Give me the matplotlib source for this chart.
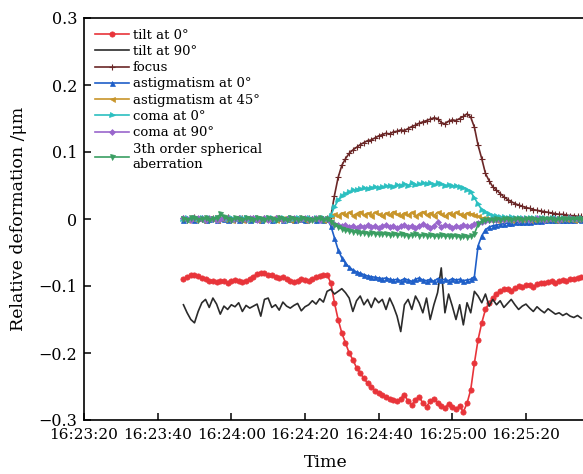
import numpy as np
import matplotlib
matplotlib.use("Agg")
import matplotlib.pyplot as plt

# time in seconds after 16:23:20, sampled every second
t_start, t_end = 27, 135
tick_seconds = [0, 20, 40, 60, 80, 100, 120]
tick_labels = ["16:23:20", "16:23:40", "16:24:00", "16:24:20", "16:24:40", "16:25:00", "16:25:20"]
ytick_vals = [-0.3, -0.2, -0.1, 0, 0.1, 0.2, 0.3]
ytick_labels = ["\u22120.3", "\u22120.2", "\u22120.1", "0", "0.1", "0.2", "0.3"]

tilt0 = [
    -0.090, -0.086, -0.084, -0.083, -0.085, -0.088, -0.090, -0.092, -0.093, -0.094,
    -0.092, -0.093, -0.095, -0.093, -0.091, -0.093, -0.094, -0.092, -0.089, -0.086,
    -0.082, -0.080, -0.081, -0.083, -0.084, -0.086, -0.088, -0.087, -0.090, -0.093,
    -0.094, -0.092, -0.089, -0.091, -0.093, -0.090, -0.087, -0.085, -0.084, -0.083,
    -0.095, -0.125, -0.150, -0.170, -0.185, -0.200, -0.210, -0.222, -0.230, -0.238,
    -0.245, -0.250, -0.256, -0.260, -0.262, -0.266, -0.268, -0.270, -0.272, -0.268,
    -0.262, -0.272, -0.278, -0.270, -0.265, -0.275, -0.280, -0.272, -0.268, -0.274,
    -0.279, -0.282, -0.276, -0.280, -0.284, -0.279, -0.288, -0.275, -0.255, -0.215,
    -0.180, -0.155, -0.135, -0.125, -0.118, -0.112, -0.108, -0.105, -0.104, -0.107,
    -0.103, -0.100, -0.102, -0.099, -0.098, -0.101, -0.097, -0.095, -0.096, -0.094,
    -0.093, -0.095, -0.092, -0.091, -0.093, -0.090, -0.089, -0.088, -0.087,
]
tilt90 = [
    -0.128, -0.140, -0.150, -0.155, -0.138, -0.125, -0.120, -0.132, -0.118, -0.127,
    -0.142, -0.130, -0.135, -0.128, -0.131, -0.125, -0.138, -0.129, -0.133, -0.130,
    -0.127, -0.145, -0.120, -0.118, -0.132, -0.128, -0.136, -0.124, -0.130, -0.133,
    -0.129, -0.126, -0.137, -0.131, -0.128, -0.122, -0.127, -0.119, -0.124, -0.108,
    -0.105, -0.112, -0.108, -0.104, -0.110, -0.118, -0.138, -0.122, -0.115, -0.128,
    -0.120, -0.132, -0.118, -0.125, -0.120, -0.135, -0.118, -0.130, -0.145, -0.168,
    -0.128, -0.120, -0.135, -0.115, -0.125, -0.140, -0.118, -0.150, -0.128, -0.110,
    -0.073, -0.140, -0.112, -0.130, -0.150, -0.128, -0.158, -0.125, -0.140, -0.108,
    -0.115, -0.125, -0.112, -0.130, -0.120, -0.128, -0.122, -0.132, -0.126, -0.120,
    -0.128, -0.135, -0.130, -0.127, -0.133, -0.138, -0.131, -0.136, -0.140, -0.134,
    -0.138, -0.142, -0.140, -0.144, -0.141, -0.145, -0.147, -0.144, -0.148,
]
focus = [
    0.002, -0.001, 0.001, 0.003, -0.002, 0.000, 0.002, -0.001, 0.001, 0.002,
    -0.002, 0.001, 0.003, 0.000, -0.001, 0.002, 0.001, -0.002, 0.000, 0.002,
    0.001, -0.001, 0.002, 0.000, -0.002, 0.001, 0.002, -0.001, 0.000, 0.001,
    -0.002, 0.000, 0.002, -0.001, 0.001, 0.000, -0.002, 0.001, 0.000, 0.001,
    0.003, 0.035, 0.062, 0.080, 0.090, 0.098, 0.103, 0.107, 0.111, 0.114,
    0.117, 0.118, 0.121, 0.124, 0.126, 0.128, 0.127, 0.130, 0.131, 0.133,
    0.132, 0.135, 0.138, 0.140, 0.143, 0.145, 0.147, 0.149, 0.151, 0.150,
    0.144, 0.142, 0.146, 0.148, 0.147, 0.150, 0.153, 0.157, 0.152, 0.137,
    0.110, 0.090, 0.068, 0.057, 0.048, 0.043, 0.038, 0.033, 0.029, 0.026,
    0.023, 0.021, 0.019, 0.017, 0.016, 0.014, 0.013, 0.012, 0.011, 0.010,
    0.009, 0.008, 0.007, 0.007, 0.006, 0.005, 0.005, 0.004, 0.004,
]
astig0 = [
    -0.001, 0.002, 0.000, -0.002, 0.001, 0.003, -0.001, 0.000, 0.002, -0.002,
    0.001, 0.000, -0.002, 0.002, 0.001, -0.001, 0.000, 0.003, -0.001, 0.001,
    0.000, -0.002, 0.001, 0.002, -0.001, 0.000, 0.001, -0.002, 0.002, 0.000,
    -0.001, 0.001, 0.000, -0.002, 0.001, 0.002, -0.001, 0.000, -0.002, 0.000,
    -0.010, -0.028, -0.046, -0.058, -0.066, -0.072, -0.076, -0.079, -0.081, -0.083,
    -0.085, -0.086, -0.087, -0.088, -0.089, -0.088, -0.090, -0.091, -0.090, -0.092,
    -0.089, -0.091, -0.093, -0.090, -0.088, -0.091, -0.092, -0.090, -0.093, -0.089,
    -0.091, -0.090, -0.092, -0.089, -0.091, -0.090, -0.092, -0.091, -0.090, -0.086,
    -0.040, -0.025, -0.016, -0.012, -0.010, -0.009, -0.008, -0.007, -0.006, -0.006,
    -0.005, -0.005, -0.004, -0.004, -0.004, -0.003, -0.003, -0.003, -0.002, -0.002,
    -0.002, -0.002, -0.001, -0.002, -0.001, -0.001, -0.001, 0.000, -0.001,
]
astig45 = [
    0.001, -0.001, 0.002, 0.000, 0.001, -0.002, 0.001, 0.002, 0.000, -0.001,
    0.002, 0.000, 0.001, -0.001, 0.002, 0.001, -0.001, 0.000, 0.002, 0.001,
    -0.001, 0.001, 0.000, 0.002, 0.001, -0.001, 0.000, 0.002, 0.001, -0.001,
    0.001, 0.000, 0.002, -0.001, 0.000, 0.001, 0.002, 0.000, -0.001, 0.001,
    0.004, 0.007, 0.005, 0.009, 0.006, 0.010, 0.005, 0.008, 0.011, 0.006,
    0.009, 0.005, 0.010, 0.007, 0.004, 0.009, 0.006, 0.011, 0.007, 0.005,
    0.009, 0.006, 0.010, 0.004, 0.008, 0.011, 0.006, 0.009, 0.005, 0.010,
    0.007, 0.004, 0.009, 0.006, 0.010, 0.007, 0.005, 0.009, 0.008, 0.006,
    0.004, 0.002, 0.001, 0.000, 0.001, -0.001, 0.000, 0.001, 0.000, -0.001,
    0.001, 0.000, 0.000, 0.001, -0.001, 0.000, 0.001, 0.000, 0.000, 0.001,
    0.000, -0.001, 0.000, 0.001, 0.000, 0.000, -0.001, 0.000, 0.001,
]
coma0 = [
    0.000, 0.002, -0.001, 0.001, 0.000, 0.002, -0.002, 0.001, 0.000, 0.001,
    -0.001, 0.002, 0.000, 0.001, -0.002, 0.000, 0.002, 0.001, -0.001, 0.000,
    0.002, 0.000, -0.001, 0.001, 0.002, -0.001, 0.000, 0.001, -0.002, 0.001,
    0.000, 0.002, -0.001, 0.000, 0.001, -0.001, 0.002, 0.000, 0.001, 0.000,
    0.005, 0.018, 0.028, 0.034, 0.038, 0.040, 0.043, 0.044, 0.045, 0.046,
    0.045, 0.047, 0.048, 0.046, 0.048, 0.049, 0.050, 0.048, 0.051, 0.050,
    0.052, 0.050, 0.053, 0.051, 0.052, 0.054, 0.052, 0.053, 0.051, 0.053,
    0.052, 0.050, 0.051, 0.049, 0.050, 0.048, 0.047, 0.044, 0.040, 0.032,
    0.022, 0.014, 0.010, 0.007, 0.005, 0.004, 0.003, 0.003, 0.002, 0.003,
    0.002, 0.002, 0.001, 0.002, 0.001, 0.001, 0.002, 0.001, 0.001, 0.000,
    0.001, 0.001, 0.000, 0.001, 0.000, 0.001, 0.000, 0.000, 0.001,
]
coma90 = [
    0.001, 0.000, -0.002, 0.001, 0.002, 0.000, -0.001, 0.001, 0.000, -0.002,
    0.000, 0.001, 0.002, -0.001, 0.000, 0.001, -0.002, 0.000, 0.001, 0.002,
    -0.001, 0.000, 0.001, -0.002, 0.000, 0.002, 0.001, -0.001, 0.000, 0.001,
    0.002, -0.001, 0.000, 0.001, -0.002, 0.000, 0.001, -0.001, 0.000, 0.000,
    -0.004, -0.007, -0.009, -0.011, -0.009, -0.012, -0.010, -0.013, -0.010, -0.012,
    -0.009, -0.012, -0.010, -0.013, -0.011, -0.009, -0.012, -0.010, -0.013, -0.011,
    -0.009, -0.012, -0.010, -0.013, -0.010, -0.008, -0.011, -0.013, -0.010, -0.005,
    -0.012, -0.009, -0.011, -0.013, -0.010, -0.012, -0.009, -0.011, -0.010, -0.008,
    -0.006, -0.004, -0.003, -0.002, -0.002, -0.001, -0.002, -0.001, 0.000, -0.001,
    0.000, -0.001, 0.000, 0.000, -0.001, 0.000, 0.001, 0.000, -0.001, 0.000,
    0.000, 0.000, -0.001, 0.000, 0.000, 0.001, 0.000, 0.000, 0.000,
]
spherical = [
    0.000, -0.001, 0.001, 0.002, -0.001, 0.000, 0.001, -0.002, 0.000, 0.002,
    0.007, 0.003, 0.000, -0.001, 0.001, 0.000, -0.002, 0.001, 0.000, -0.001,
    0.001, 0.000, -0.001, 0.002, 0.000, -0.001, 0.001, 0.000, -0.002, 0.001,
    0.000, -0.001, 0.001, 0.000, -0.002, -0.001, 0.000, 0.001, -0.001, 0.000,
    -0.004, -0.009, -0.012, -0.015, -0.017, -0.018, -0.019, -0.020, -0.021, -0.021,
    -0.022, -0.021, -0.022, -0.023, -0.022, -0.023, -0.024, -0.023, -0.024, -0.023,
    -0.024, -0.025, -0.024, -0.023, -0.025, -0.024, -0.025, -0.024, -0.026, -0.025,
    -0.024, -0.026, -0.025, -0.026, -0.025, -0.027, -0.026, -0.027, -0.026, -0.022,
    -0.008, -0.003, -0.002, -0.001, -0.001, 0.000, -0.001, 0.000, 0.000, -0.001,
    0.000, 0.000, -0.001, 0.000, 0.000, 0.000, -0.001, 0.000, 0.000, 0.000,
    0.000, -0.001, 0.000, 0.000, 0.000, 0.000, 0.000, 0.000, 0.000,
]

t = np.arange(t_start, t_end + 1)

series = [
    ("tilt at 0\u00b0", tilt0, "#e8343a", "o", 3.8),
    ("tilt at 90\u00b0", tilt90, "#2b2b2b", None, 0),
    ("focus", focus, "#6b2727", "+", 4.0),
    ("astigmatism at 0\u00b0", astig0, "#1f5fc8", "^", 3.6),
    ("astigmatism at 45\u00b0", astig45, "#c8952a", "<", 3.6),
    ("coma at 0\u00b0", coma0, "#2bbfc0", ">", 3.6),
    ("coma at 90\u00b0", coma90, "#9966cc", "D", 3.0),
    ("3th order spherical\naberration", spherical, "#3a9e62", "v", 3.6),
]

plt.rcParams["font.family"] = ["DejaVu Serif"]
plt.rcParams["mathtext.fontset"] = "dejavuserif"

fig = plt.figure(figsize=(5.83, 4.74), dpi=100)
ax = fig.add_axes([84 / 583, 54 / 474, 506 / 583, 402 / 474])

for label, vals, color, marker, ms in series:
    ax.plot(t, vals, color=color, lw=1.2, marker=marker, markersize=ms,
            markeredgewidth=0.8 if marker == "+" else 0.5, label=label)

ax.set_xlim(0, 506 / 3.683)
ax.set_ylim(-0.3, 0.3)
ax.set_xticks(tick_seconds)
ax.set_xticklabels(tick_labels, fontsize=11)
ax.set_yticks(ytick_vals)
ax.set_yticklabels(ytick_labels, fontsize=11.5)
ax.tick_params(direction="in", length=5, width=1.1, top=False, right=False)
ax.tick_params(axis="x", pad=6)
ax.tick_params(axis="y", pad=5)
for s in ax.spines.values():
    s.set_linewidth(1.2)

ax.set_ylabel("Relative deformation /\u03bcm", fontsize=12.5)
ax.yaxis.set_label_coords(-0.112, 0.5)
ax.set_xlabel("Time", fontsize=12.5)
ax.xaxis.set_label_coords(0.478, -0.085)

ax.legend(loc="upper left", bbox_to_anchor=(0.0, 1.0), frameon=False,
          fontsize=9.5, handlelength=2.6, handletextpad=0.3, labelspacing=0.25,
          numpoints=1, borderaxespad=0.5, borderpad=0.3)

fig.savefig("out.png", dpi=100)
